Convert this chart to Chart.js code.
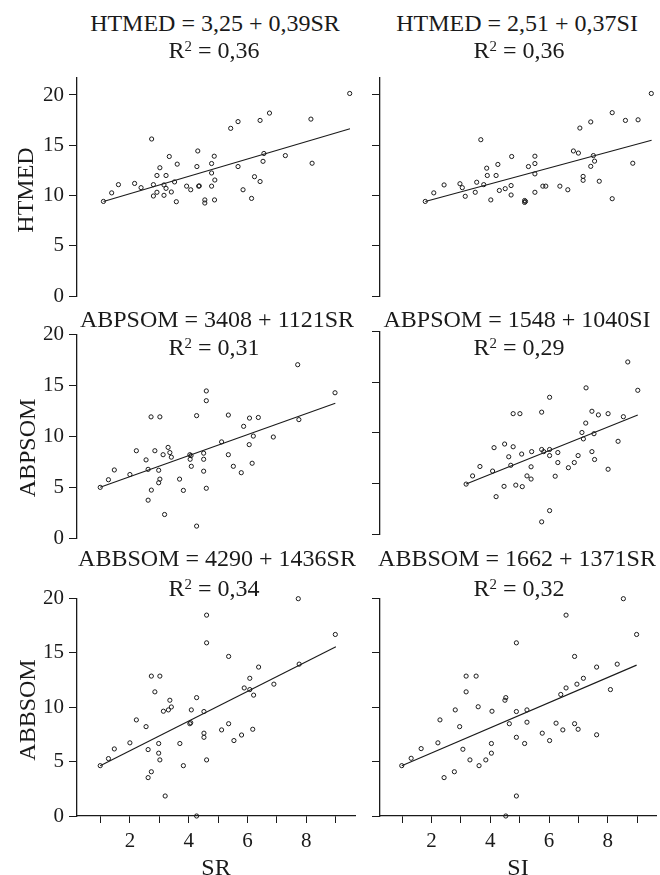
<!DOCTYPE html>
<html>
<head>
<meta charset="utf-8">
<script src="https://cdn.jsdelivr.net/npm/chart.js@4.4.1/dist/chart.umd.min.js"></script>
<style>
    html, body { margin: 0; padding: 0; background: #fff; overflow: hidden; }
    #page { position: relative; width: 660px; height: 875px; overflow: hidden; font-family: 'Liberation Serif', 'Times New Roman', serif; color: #1a1a1a; }
    #page canvas { position: absolute; }
    .ttl { position: absolute; font-size: 24px; line-height: 24px; white-space: nowrap; transform: translateX(-50%); }
    .ttl span { position: relative; top: -0.45em; font-size: 0.62em; }
    .ytl { position: absolute; font-size: 24px; line-height: 24px; white-space: nowrap; transform: translate(-50%, -50%) rotate(-90deg); }
</style>
</head>
<body>
<div id="page">
    <canvas id="c1"></canvas>
    <canvas id="c2"></canvas>
    <canvas id="c3"></canvas>
    <canvas id="c4"></canvas>
    <canvas id="c5"></canvas>
    <canvas id="c6"></canvas>

    <div class="ttl" style="left:215px; top:11px;">HTMED = 3,25 + 0,39SR</div>
    <div class="ttl" style="left:214px; top:38px;">R<span>2</span> = 0,36</div>
    <div class="ttl" style="left:517px; top:11px;">HTMED = 2,51 + 0,37SI</div>
    <div class="ttl" style="left:519px; top:38px;">R<span>2</span> = 0,36</div>

    <div class="ttl" style="left:217px; top:307px;">ABPSOM = 3408 + 1121SR</div>
    <div class="ttl" style="left:214px; top:335px;">R<span>2</span> = 0,31</div>
    <div class="ttl" style="left:517px; top:307px;">ABPSOM = 1548 + 1040SI</div>
    <div class="ttl" style="left:519px; top:335px;">R<span>2</span> = 0,29</div>

    <div class="ttl" style="left:217px; top:546px;">ABBSOM = 4290 + 1436SR</div>
    <div class="ttl" style="left:214px; top:576px;">R<span>2</span> = 0,34</div>
    <div class="ttl" style="left:517px; top:546px;">ABBSOM = 1662 + 1371SR</div>
    <div class="ttl" style="left:519px; top:576px;">R<span>2</span> = 0,32</div>

    <div class="ytl" style="left:25px; top:190px;">HTMED</div>
    <div class="ytl" style="left:27px; top:448px;">ABPSOM</div>
    <div class="ytl" style="left:27px; top:710px;">ABBSOM</div>
</div>

<script>
// axis ticks
const xTickValues = [1, 2, 3, 4, 5, 6, 7, 8, 9];
const xTickLabels = [2, 4, 6, 8];
const yTickValues = [0, 5, 10, 15, 20];

// HTMED vs SR
const htmedSrX = [1.10,1.38,1.61,2.16,2.38,2.74,2.80,2.80,2.92,2.92,3.02,3.16,3.16,3.23,3.23,3.34,3.41,3.52,3.58,3.61,3.93,4.07,4.28,4.31,4.34,4.36,4.55,4.55,4.78,4.78,4.78,4.87,4.89,4.88,5.43,5.68,5.68,5.85,6.14,6.24,6.43,6.43,6.53,6.56,6.75,7.29,8.16,8.20,9.48];
const htmedSrY = [9.41,10.26,11.08,11.20,10.78,15.62,11.08,9.95,10.32,11.99,12.76,11.05,10.02,11.99,10.71,13.88,10.35,11.35,9.38,13.12,10.93,10.57,12.88,14.43,10.93,10.95,9.56,9.25,13.18,12.24,10.93,13.91,11.54,9.56,16.68,17.35,12.88,10.57,9.71,11.87,17.47,11.39,13.40,14.18,18.20,13.97,17.60,13.21,20.15];
const htmedSrFitX = [1.10, 9.49];
const htmedSrFitY = [9.41, 16.65];

// HTMED vs SI
const htmedSiX = [1.79,2.08,2.43,2.97,3.05,3.15,3.49,3.54,3.68,3.78,3.88,3.90,4.02,4.20,4.26,4.31,4.51,4.71,4.71,4.73,5.17,5.17,5.20,5.30,5.52,5.52,5.52,5.52,5.79,5.89,6.37,6.64,6.83,7.00,7.05,7.16,7.16,7.42,7.42,7.51,7.55,7.71,8.15,8.15,8.60,8.85,9.03,9.48];
const htmedSiY = [9.41,10.26,11.05,11.17,10.78,9.92,10.32,11.32,15.55,11.08,12.72,11.99,9.56,11.99,13.09,10.50,10.68,10.99,10.05,13.88,9.50,9.31,9.41,12.88,13.91,13.18,12.15,10.32,10.93,10.93,10.93,10.57,14.43,14.22,16.71,11.90,11.51,17.32,12.90,13.97,13.42,11.42,9.68,18.24,17.47,13.21,17.53,20.15];
const htmedSiFitX = [1.79, 9.49];
const htmedSiFitY = [9.41, 15.50];

// ABPSOM vs SR
const abpSrX = [0.99,1.27,1.47,2.00,2.22,2.55,2.62,2.62,2.72,2.73,2.85,2.98,2.98,3.02,3.02,3.13,3.18,3.30,3.36,3.41,3.69,3.82,4.04,4.05,4.08,4.09,4.27,4.27,4.51,4.51,4.51,4.60,4.60,4.60,5.12,5.35,5.35,5.52,5.79,5.87,6.06,6.07,6.16,6.20,6.37,6.88,7.71,7.75,8.98];
const abpSrY = [4.98,5.73,6.69,6.24,8.58,7.68,6.75,3.72,11.91,4.71,8.58,6.66,5.43,11.91,5.79,8.19,2.31,8.91,8.40,7.95,5.79,4.68,8.19,7.74,8.10,7.05,12.03,1.17,8.34,7.74,6.57,14.46,13.50,4.89,9.45,12.09,8.19,7.05,6.42,10.98,9.18,11.79,7.35,10.02,11.85,9.93,17.04,11.64,14.28];
const abpSrFitX = [0.99, 8.99];
const abpSrFitY = [4.98, 13.26];

// ABPSOM vs SI
const abpSiX = [3.18,3.40,3.65,4.08,4.13,4.20,4.47,4.49,4.63,4.70,4.78,4.78,4.87,5.01,5.07,5.09,5.25,5.39,5.39,5.41,5.75,5.75,5.75,5.82,6.02,6.02,6.02,6.02,6.21,6.30,6.30,6.66,6.86,6.99,7.12,7.17,7.25,7.26,7.46,7.46,7.53,7.55,7.68,8.01,8.01,8.35,8.53,8.68,9.02];
const abpSiY = [4.93,5.74,6.67,6.22,8.53,3.69,4.71,8.89,7.63,6.79,8.62,11.89,4.83,11.89,7.90,4.68,5.74,6.64,5.43,8.14,8.35,12.04,1.20,8.14,13.51,8.35,7.75,2.31,5.71,8.05,7.06,6.55,7.06,7.75,10.03,9.40,10.96,14.44,12.13,8.14,9.91,7.36,11.77,11.89,6.40,9.16,11.59,17.00,14.20];
const abpSiFitX = [3.18, 9.02];
const abpSiFitY = [4.93, 11.77];

// ABBSOM vs SR
const abbSrX = [0.99,1.27,1.47,2.00,2.22,2.55,2.62,2.62,2.73,2.73,2.85,2.98,2.98,3.02,3.02,3.14,3.20,3.31,3.36,3.41,3.70,3.82,4.04,4.07,4.09,4.27,4.27,4.52,4.52,4.52,4.61,4.61,4.61,5.12,5.36,5.36,5.54,5.80,5.89,6.08,6.08,6.18,6.21,6.38,6.90,7.73,7.76,8.99];
const abbSrY = [4.63,5.28,6.17,6.73,8.84,8.22,6.11,3.53,12.87,4.07,11.42,6.67,5.78,12.87,5.16,9.64,1.84,9.76,10.65,10.03,6.67,4.63,8.49,8.58,9.76,10.89,0.00,9.61,7.62,7.24,18.48,15.93,5.16,7.92,14.68,8.49,6.94,7.45,11.78,12.67,11.63,7.98,11.12,13.70,12.13,19.99,13.97,16.70];
const abbSrFitX = [0.99, 9.01];
const abbSrFitY = [4.63, 15.57];

// ABBSOM vs SI
const abbSiX = [0.99,1.31,1.65,2.22,2.29,2.43,2.78,2.81,2.96,3.07,3.18,3.18,3.31,3.52,3.59,3.62,3.85,4.04,4.04,4.06,4.50,4.53,4.53,4.65,4.89,4.89,4.89,4.89,5.17,5.25,5.25,5.77,6.02,6.24,6.40,6.47,6.58,6.58,6.87,6.87,6.95,6.99,7.17,7.62,7.62,8.09,8.32,8.53,8.98];
const abbSiY = [4.63,5.31,6.20,6.73,8.84,3.53,4.07,9.76,8.22,6.14,12.87,11.42,5.16,12.87,10.05,4.63,5.16,6.67,5.78,9.64,10.65,10.89,0.00,8.49,15.93,9.61,7.24,1.84,6.67,9.76,8.63,7.62,6.94,8.54,11.18,7.92,18.48,11.78,8.49,14.68,12.13,7.98,12.67,13.70,7.47,11.63,13.97,19.99,16.70];
const abbSiFitX = [0.99, 8.98];
const abbSiFitY = [4.63, 13.88];


const serif = "'Liberation Serif', 'Times New Roman', serif";
const ink = '#1a1a1a';

function toPoints(xs, ys){
    return xs.map((x, i) => ({ x: x, y: ys[i] }));
}

// box = canvas position, area = wanted plot area (page pixels)
function makePanel(id, xs, ys, fitX, fitY, p){
    const cv = document.getElementById(id);
    cv.width = p.box.w;
    cv.height = p.box.h;
    cv.style.left = p.box.x + 'px';
    cv.style.top = p.box.y + 'px';

    const yW = p.area.left - p.box.x;
    const padTop = p.area.top - p.box.y;
    const padRight = p.box.x + p.box.w - p.area.right;
    const xH = p.box.y + p.box.h - p.area.bottom;

    return new Chart(cv, {
        type: 'scatter',
        data: {
            datasets: [{
                data: toPoints(xs, ys),
                pointRadius: 2.1,
                pointBorderWidth: 1,
                pointBorderColor: ink,
                pointBackgroundColor: 'rgba(0,0,0,0)',
                clip: false
            }, {
                type: 'line',
                data: toPoints(fitX, fitY),
                borderColor: ink,
                borderWidth: 1.1,
                pointRadius: 0,
                fill: false,
                clip: false
            }]
        },
        options: {
            responsive: false,
            animation: false,
            devicePixelRatio: 1,
            layout: {
                autoPadding: false,
                padding: { left: 0, top: padTop, right: padRight, bottom: p.showX ? 0 : xH }
            },
            plugins: { legend: { display: false }, tooltip: { enabled: false } },
            scales: {
                x: {
                    type: 'linear',
                    min: p.xMin,
                    max: p.xMax,
                    display: p.showX,
                    afterBuildTicks: s => { s.ticks = xTickValues.map(v => ({ value: v })); },
                    afterFit: s => { s.height = xH; },
                    border: { display: true, color: ink, width: 1.3 },
                    grid: { drawOnChartArea: false, drawTicks: true, tickLength: 7, color: ink, lineWidth: 1 },
                    ticks: {
                        autoSkip: false,
                        maxRotation: 0,
                        padding: 6,
                        color: ink,
                        font: { family: serif, size: 21 },
                        callback: v => xTickLabels.includes(v) ? String(v) : ''
                    },
                    title: {
                        display: true,
                        text: p.xTitle || '',
                        color: ink,
                        font: { family: serif, size: 24 },
                        padding: { top: 0, bottom: 2 }
                    }
                },
                y: {
                    type: 'linear',
                    min: 0,
                    max: p.yMax,
                    afterBuildTicks: s => { s.ticks = yTickValues.map(v => ({ value: v })); },
                    afterFit: s => { s.width = yW; },
                    border: { display: true, color: ink, width: 1.3 },
                    grid: { drawOnChartArea: false, drawTicks: true, tickLength: 8, color: ink, lineWidth: 1 },
                    ticks: {
                        autoSkip: false,
                        padding: 5,
                        color: ink,
                        font: { family: serif, size: 21 },
                        callback: v => p.yLabels ? String(v) : ''
                    }
                }
            }
        }
    });
}

const leftCol = { x: 0, w: 360 };
const rightCol = { x: 360, w: 300 };

makePanel('c1', htmedSrX, htmedSrY, htmedSrFitX, htmedSrFitY, {
    box: { x: leftCol.x, y: 60, w: leftCol.w, h: 260 },
    area: { left: 77, right: 355, top: 70, bottom: 308 },
    xMin: 0.2, xMax: 9.66, yMax: 21.73, showX: false, yLabels: true
});
makePanel('c2', htmedSiX, htmedSiY, htmedSiFitX, htmedSiFitY, {
    box: { x: rightCol.x, y: 60, w: rightCol.w, h: 260 },
    area: { left: 380, right: 656, top: 70, bottom: 308 },
    xMin: 0.25, xMax: 9.64, yMax: 21.73, showX: false, yLabels: false
});
makePanel('c3', abpSrX, abpSrY, abpSrFitX, abpSrFitY, {
    box: { x: leftCol.x, y: 317, w: leftCol.w, h: 245 },
    area: { left: 77, right: 355, top: 327, bottom: 550 },
    xMin: 0.2, xMax: 9.66, yMax: 20, showX: false, yLabels: true
});
makePanel('c4', abpSiX, abpSiY, abpSiFitX, abpSiFitY, {
    box: { x: rightCol.x, y: 314, w: rightCol.w, h: 244 },
    area: { left: 380, right: 656, top: 324, bottom: 546 },
    xMin: 0.25, xMax: 9.64, yMax: 20, showX: false, yLabels: false
});
makePanel('c5', abbSrX, abbSrY, abbSrFitX, abbSrFitY, {
    box: { x: leftCol.x, y: 581, w: leftCol.w, h: 304 },
    area: { left: 77, right: 355, top: 591, bottom: 816 },
    xMin: 0.2, xMax: 9.66, yMax: 20, showX: true, yLabels: true, xTitle: 'SR'
});
makePanel('c6', abbSiX, abbSiY, abbSiFitX, abbSiFitY, {
    box: { x: rightCol.x, y: 581, w: rightCol.w, h: 304 },
    area: { left: 380, right: 656, top: 591, bottom: 816 },
    xMin: 0.25, xMax: 9.64, yMax: 20, showX: true, yLabels: false, xTitle: 'SI'
});
</script>
</body>
</html>
